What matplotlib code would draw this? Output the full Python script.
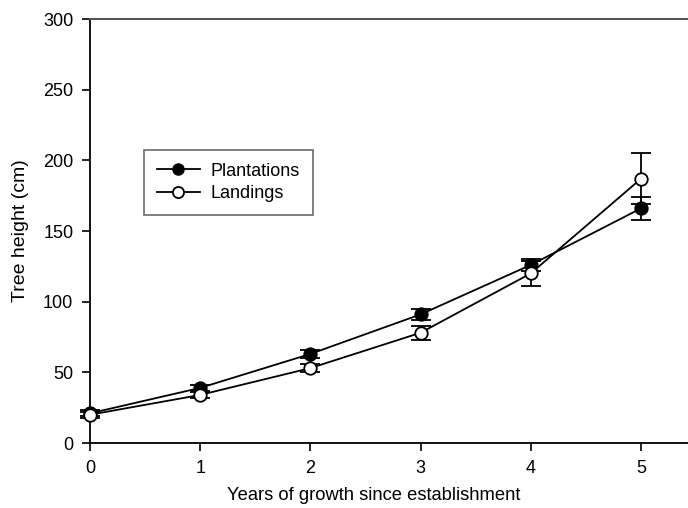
import matplotlib
matplotlib.use("Agg")
import matplotlib.pyplot as plt
from matplotlib.lines import Line2D

plt.rcParams['font.family'] = ['Liberation Sans', 'DejaVu Sans']

years = [0, 1, 2, 3, 4, 5]
plantations = [21, 39, 63, 91, 126, 166]
plantations_err = [2, 2, 3, 4, 4, 8]
landings = [20, 34, 53, 78, 120, 187]
landings_err = [2, 2, 3, 5, 9, 18]

xticks = [0, 1, 2, 3, 4, 5]
yticks = [0, 50, 100, 150, 200, 250, 300]

fig = plt.figure(figsize=(6.88, 5.08), dpi=100)
ax = fig.add_axes([90/688, 1-443/508, 1-90/688, (443-19)/508])

for y, e, fc, z in [(plantations, plantations_err, 'black', 3),
                    (landings, landings_err, 'white', 4)]:
    cont = ax.errorbar(years, y, yerr=e, color='black', lw=1.3,
                       marker='o', ms=9, mfc=fc, mec='black', mew=1.3,
                       capsize=7, capthick=1.3, elinewidth=1.3, zorder=z)
    cont[0].set_clip_on(False)
    for c in cont[1]:
        c.set_clip_on(False)
    for c in cont[2]:
        c.set_clip_on(False)

ax.set_xlim(0, (688-90)/110.2)
ax.set_ylim(0, 300)
ax.set_xticks(xticks)
ax.set_yticks(yticks)
ax.tick_params(direction='out', length=6, width=1.2, labelsize=13, pad=6)
ax.spines['right'].set_visible(False)
ax.spines['top'].set_color('#555555')
ax.spines['top'].set_linewidth(1.5)
for s in ['left', 'bottom']:
    ax.spines[s].set_linewidth(1.3)

ax.set_xlabel('Years of growth since establishment', fontsize=13.2)
ax.xaxis.set_label_coords((374-90)/598, -(487-443)/424)
ax.xaxis.label.set_va('top')
ax.set_ylabel('Tree height (cm)', fontsize=14, labelpad=10)

handles = [Line2D([], [], color='black', lw=1.3, marker='o', ms=8, mfc='black', mec='black'),
           Line2D([], [], color='black', lw=1.3, marker='o', ms=8, mfc='white', mec='black', mew=1.3)]
leg = ax.legend(handles, ['Plantations', 'Landings'], loc='upper left',
                bbox_to_anchor=((144-90)/598, (443-150)/424),
                fontsize=13, frameon=True, fancybox=False, edgecolor='#444444',
                handlelength=2.4, borderpad=0.7, labelspacing=0.3, handletextpad=0.6,
                borderaxespad=0)
leg.get_frame().set_linewidth(1.2)

fig.savefig('out.png', dpi=100)
